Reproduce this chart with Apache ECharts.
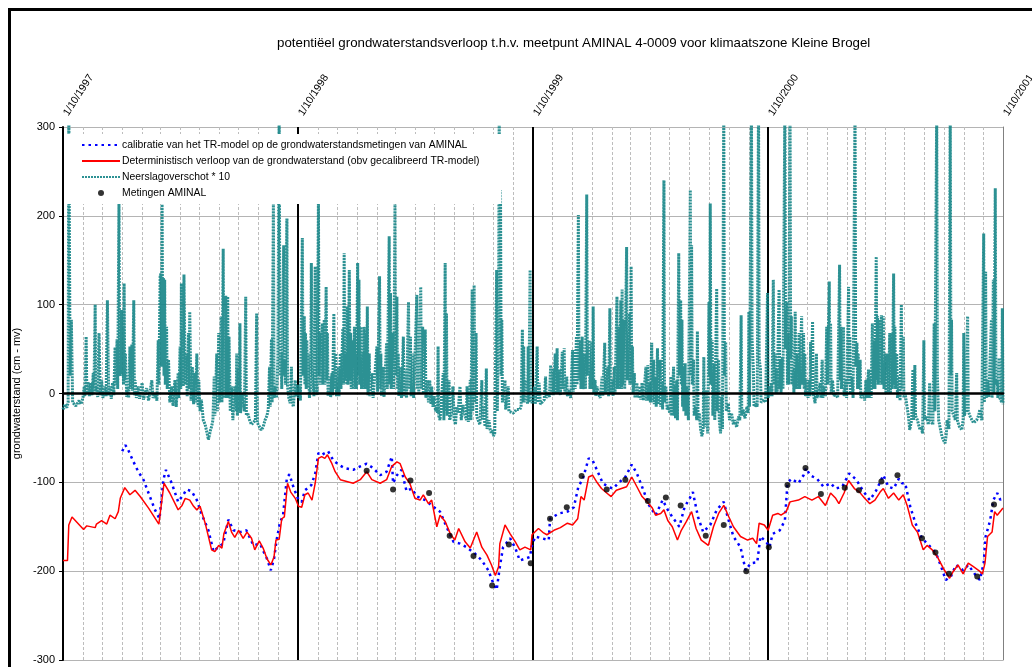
<!DOCTYPE html>
<html>
<head>
<meta charset="utf-8">
<title>grondwaterstandsverloop AMINAL 4-0009</title>
<script src="https://cdn.jsdelivr.net/npm/echarts@6/dist/echarts.min.js"></script>
<style>
  html, body { margin: 0; padding: 0; background: #ffffff; }
  #chart { width: 1032px; height: 667px; }
</style>
</head>
<body>
<div id="chart"></div>
<script>
// Days are counted from 1 October 1997 (day 0) up to 1 October 2001 (day 1461).
const titel = 'potentiëel grondwaterstandsverloop t.h.v. meetpunt AMINAL 4-0009 voor klimaatszone Kleine Brogel';
const yAsNaam = 'grondwaterstand (cm - mv)';
const jaarLabels = ['1/10/1997', '1/10/1998', '1/10/1999', '1/10/2000', '1/10/2001'];
const reeksNamen = [
  'calibratie van het TR-model op de grondwaterstandsmetingen van AMINAL',
  'Deterministisch verloop van de grondwaterstand (obv gecalibreerd TR-model)',
  'Neerslagoverschot * 10',
  'Metingen AMINAL'
];

// calibratie van het TR-model: [dag, cm]
const calibratie = [
  [92,-65],[97,-58],[101,-63],[109,-76],[117,-88],[125,-97],[135,-116],[143,-131],[150,-141],
  [156,-97],[160,-86],[169,-101],[179,-122],[187,-114],[192,-108],[200,-110],[208,-120],[215,-135],
  [226,-154],[234,-178],[241,-173],[249,-169],[257,-142],[265,-154],[275,-156],[285,-154],[296,-171],
  [306,-169],[317,-186],[323,-199],[328,-186],[332,-165],[337,-146],[342,-137],[348,-95],[352,-91],
  [358,-105],[366,-120],[371,-122],[376,-109],[386,-103],[392,-90],[397,-67],[402,-69],[412,-65],
  [420,-75],[428,-80],[438,-84],[451,-86],[462,-82],[472,-79],[482,-84],[493,-92],[503,-88],
  [511,-71],[513,-101],[519,-92],[526,-86],[534,-110],[542,-107],[550,-116],[563,-120],[573,-126],
  [586,-133],[596,-150],[607,-167],[617,-169],[627,-173],[640,-180],[651,-188],[661,-199],[669,-214],
  [674,-221],[679,-195],[684,-173],[695,-163],[703,-174],[710,-188],[713,-186],[726,-184],[728,-173],
  [734,-161],[744,-163],[755,-165],[757,-141],[771,-135],[784,-133],[794,-128],[801,-105],[808,-96],
  [817,-73],[823,-75],[831,-88],[839,-101],[847,-105],[855,-107],[863,-101],[874,-94],[884,-80],
  [892,-90],[900,-105],[911,-126],[921,-137],[932,-120],[940,-131],[947,-139],[958,-150],[966,-128],
  [974,-118],[979,-111],[987,-139],[995,-156],[1006,-148],[1016,-131],[1027,-122],[1033,-139],
  [1042,-161],[1053,-173],[1061,-199],[1069,-191],[1079,-190],[1084,-161],[1093,-167],[1098,-173],
  [1103,-158],[1114,-154],[1122,-143],[1126,-101],[1132,-96],[1143,-101],[1151,-92],[1155,-84],
  [1161,-92],[1172,-96],[1182,-105],[1193,-101],[1201,-107],[1211,-105],[1222,-90],[1233,-97],
  [1243,-109],[1254,-120],[1264,-109],[1275,-92],[1283,-105],[1291,-107],[1299,-96],[1304,-101],
  [1309,-101],[1317,-128],[1325,-146],[1335,-163],[1346,-171],[1357,-180],[1365,-195],[1372,-210],
  [1380,-206],[1388,-193],[1399,-199],[1407,-193],[1417,-203],[1425,-210],[1431,-191],[1434,-161],
  [1441,-143],[1446,-120],[1452,-112],[1457,-120],[1461,-116]
];

// deterministisch verloop (gecalibreerd TR-model): [dag, cm]
const deterministisch = [
  [0,-188],[7,-188],[9,-148],[14,-139],[32,-153],[37,-149],[50,-151],[52,-147],[60,-143],[68,-147],
  [73,-137],[81,-141],[86,-133],[89,-118],[96,-106],[104,-114],[112,-109],[120,-116],[133,-129],
  [149,-147],[157,-101],[166,-112],[179,-131],[185,-126],[190,-118],[197,-120],[203,-127],[208,-131],
  [213,-127],[221,-146],[231,-176],[236,-178],[242,-171],[247,-174],[250,-158],[257,-144],[262,-156],
  [267,-162],[273,-154],[280,-163],[286,-156],[293,-163],[298,-176],[305,-166],[311,-174],[317,-186],
  [323,-193],[328,-184],[331,-165],[336,-164],[340,-141],[344,-139],[349,-101],[354,-111],[361,-118],
  [366,-127],[371,-128],[376,-114],[381,-112],[387,-120],[392,-101],[397,-73],[402,-71],[407,-73],
  [411,-69],[418,-79],[423,-88],[431,-97],[441,-99],[451,-101],[462,-97],[472,-88],[480,-97],
  [493,-101],[503,-97],[511,-82],[519,-77],[524,-79],[532,-94],[539,-101],[547,-118],[555,-120],
  [560,-114],[568,-124],[573,-120],[581,-150],[586,-137],[594,-144],[602,-158],[609,-165],[615,-152],
  [625,-167],[633,-174],[638,-165],[643,-156],[651,-173],[659,-182],[666,-193],[672,-205],[677,-195],
  [679,-169],[687,-148],[695,-158],[703,-167],[710,-176],[718,-173],[727,-176],[729,-159],[739,-152],
  [747,-157],[752,-159],[763,-154],[773,-151],[784,-146],[792,-148],[800,-141],[805,-116],[810,-120],
  [817,-94],[823,-92],[829,-99],[837,-107],[845,-112],[852,-116],[860,-109],[868,-107],[876,-105],
  [884,-94],[892,-105],[900,-116],[908,-122],[916,-129],[921,-137],[929,-135],[934,-131],[940,-143],
  [947,-150],[955,-165],[961,-154],[969,-144],[977,-133],[984,-152],[992,-165],[1003,-171],[1011,-150],
  [1019,-135],[1027,-126],[1035,-139],[1042,-150],[1053,-161],[1064,-165],[1072,-163],[1078,-169],
  [1082,-146],[1090,-148],[1096,-154],[1103,-137],[1111,-135],[1116,-137],[1124,-133],[1130,-122],
  [1143,-120],[1153,-116],[1164,-120],[1174,-116],[1185,-126],[1193,-112],[1201,-118],[1206,-124],
  [1214,-112],[1221,-98],[1230,-107],[1238,-111],[1246,-118],[1254,-124],[1262,-120],[1270,-111],
  [1275,-107],[1283,-118],[1291,-112],[1299,-120],[1306,-114],[1312,-126],[1320,-148],[1328,-156],
  [1337,-176],[1343,-171],[1351,-176],[1359,-184],[1370,-199],[1378,-208],[1383,-201],[1391,-193],
  [1399,-203],[1407,-191],[1415,-195],[1423,-199],[1429,-203],[1433,-191],[1437,-161],[1444,-156],
  [1448,-133],[1452,-137],[1461,-129]
];

// neerslagoverschot * 10, per hydrologisch jaar: [dag, waarde]
const neerslag9798 = [
  [0,-18],[3,-12],[6,-16],[8,-10],[9,330],[11,20],[13,83],[15,-10],[20,-14],[25,-8],[28,-12],[31,-5],
  [33,8],[34,-3],[36,64],[37,0],[39,13],[41,-3],[43,12],[45,-2],[47,23],[48,0],[50,100],[51,2],[52,8],
  [54,-4],[56,68],[58,-2],[60,15],[62,-5],[65,8],[67,-3],[69,105],[71,-2],[73,8],[75,-6],[77,12],
  [79,-2],[81,52],[82,10],[84,61],[85,5],[87,216],[88,20],[90,30],[91,94],[92,20],[93,75],[94,10],
  [95,124],[96,15],[97,45],[99,-4],[100,8],[102,-5],[104,53],[105,5],[107,55],[108,3],[110,105],
  [111,-2],[112,15],[114,-5],[117,8],[119,-6],[123,12],[125,-7],[130,6],[133,-8],[138,15],[140,-5],
  [143,0],[146,-8],[148,60],[149,10],[151,132],[152,135],[153,30],[154,218],[155,40],[156,130],
  [157,20],[158,128],[159,10],[161,75],[162,5],[164,38],[166,-10],[169,8],[171,-14],[174,15],
  [176,-15],[179,23],[180,-5],[182,53],[183,5],[184,124],[185,10],[186,72],[187,8],[188,134],[190,10],
  [192,45],[193,-3],[195,68],[196,5],[197,92],[199,-8],[201,30],[203,-12],[205,23],[206,-10],[208,45],
  [210,-15],[211,15],[213,-20],[215,-7],[218,-30],[221,-35],[224,-45],[226,-52],[229,-42],[231,-37],
  [233,-30],[235,19],[236,-25],[239,45],[240,-20],[242,68],[243,-10],[245,47],[246,87],[247,-10],
  [249,163],[250,-5],[252,75],[253,110],[254,-5],[256,109],[257,-5],[258,64],[260,-20],[262,8],
  [264,-30],[265,-28],[267,8],[269,-20],[270,45],[271,-25],[272,27],[274,-20],[275,79],[276,-22],
  [278,0],[280,-11],[282,-20],[284,109],[285,-25],[287,-22],[290,-30],[293,-35],[296,-37],[299,-30],
  [301,90],[302,-33],[305,-35],[308,-41],[311,-38],[314,-30],[317,-25],[319,-18],[321,30],[322,-15],
  [324,61],[325,-10],[327,214],[328,-5],[330,8],[332,-5],[334,40],[336,330],[337,83],[338,20],[339,45],
  [340,5],[343,167],[344,20],[345,38],[346,10],[348,197],[349,8],[351,-5],[353,-11],[355,30],[356,-8],
  [358,-15],[361,15],[362,-3],[363,-4],[365,10]
];
const neerslag9899 = [
  [366,-5],[368,8],[369,-8],[372,175],[373,20],[375,87],[376,10],[377,68],[378,5],[379,60],[380,8],
  [381,45],[383,-5],[385,8],[386,147],[387,30],[390,-3],[392,143],[393,20],[395,-2],[397,217],[398,20],
  [399,68],[400,10],[403,79],[404,10],[406,83],[407,10],[409,120],[410,15],[411,68],[412,-3],[415,19],
  [416,-4],[418,23],[419,-2],[421,90],[422,5],[424,45],[425,-3],[428,30],[429,-3],[431,45],[432,5],
  [435,73],[436,10],[437,158],[438,15],[440,45],[441,10],[442,98],[443,10],[445,139],[446,15],[447,68],
  [448,5],[450,60],[451,5],[453,75],[454,5],[455,45],[456,5],[458,147],[459,20],[460,128],[461,10],
  [463,75],[464,5],[466,45],[467,5],[468,75],[469,5],[471,68],[472,5],[473,98],[474,-2],[476,45],
  [477,-3],[480,23],[482,-5],[485,-3],[488,53],[489,2],[492,132],[493,5],[494,45],[495,-3],[498,30],
  [499,-4],[501,-5],[503,57],[504,5],[507,177],[508,10],[509,113],[510,5],[513,68],[514,5],[516,214],
  [517,20],[519,109],[520,5],[521,45],[522,-3],[525,30],[526,-5],[529,64],[530,-3],[533,27],[534,-5],
  [537,103],[538,5],[540,64],[541,-3],[544,45],[545,-5],[550,111],[551,5],[552,64],[553,0],[556,120],
  [557,5],[559,75],[560,0],[563,72],[564,-5],[566,15],[568,-10],[570,15],[572,-12],[573,8],[575,-15],
  [577,-3],[579,-20],[581,-15],[582,-22],[583,53],[584,-25],[586,-30],[589,-28],[591,23],[592,-30],
  [594,147],[595,-20],[596,90],[597,-25],[600,15],[601,-30],[604,-22],[606,8],[608,-30],[610,-35],
  [612,-15],[614,-22],[617,8],[619,-30],[622,-13],[624,-22],[627,-30],[628,8],[630,-32],[633,15],
  [634,-30],[636,117],[637,-20],[639,122],[640,-10],[642,68],[643,-26],[645,-26],[648,-35],[651,15],
  [652,-30],[653,-15],[656,-37],[658,28],[659,-40],[662,-30],[664,-41],[666,-45],[668,-41],[669,-48],
  [671,-45],[674,139],[675,-20],[677,75],[678,330],[679,60],[680,229],[681,20],[682,83],[683,-10],
  [687,15],[688,-18],[692,8],[693,-20],[696,-22],[700,-22],[705,-18],[710,-18],[712,-15],[714,72],
  [715,-10],[716,53],[717,-10],[721,15],[722,-12],[723,53],[724,-10],[726,139],[727,-5],[729,-11],
  [732,0]
];
const neerslag9900 = [
  [733,8],[734,-12],[737,53],[738,-10],[740,12],[742,-12],[744,-11],[748,-7],[750,19],[751,-5],[754,0],
  [756,-4],[758,32],[759,-2],[761,28],[762,-2],[765,45],[766,0],[768,51],[769,0],[772,27],[773,-2],
  [776,47],[777,5],[779,51],[780,0],[783,19],[784,-3],[787,4],[789,-5],[792,49],[793,2],[795,49],
  [796,5],[798,64],[799,10],[801,201],[802,15],[804,60],[805,5],[807,64],[808,5],[811,45],[812,5],
  [814,224],[815,20],[818,60],[819,5],[822,58],[823,5],[824,98],[825,0],[827,15],[828,-3],[830,8],
  [832,0],[835,-5],[838,19],[839,-3],[842,57],[843,0],[847,30],[848,-3],[850,96],[851,0],[854,15],
  [855,-3],[857,30],[858,0],[861,109],[862,5],[864,75],[865,5],[867,105],[868,5],[869,117],[870,10],
  [872,83],[873,5],[876,165],[877,15],[880,90],[881,10],[883,143],[884,10],[885,53],[886,0],[888,23],
  [889,-5],[892,12],[893,-5],[897,8],[898,-7],[900,12],[902,-8],[906,30],[907,-8],[909,32],[910,-8],
  [912,12],[913,-10],[915,57],[916,-10],[918,38],[919,-12],[921,19],[922,-15],[924,51],[925,-12],
  [928,38],[929,-15],[930,12],[932,-18],[934,240],[935,-10],[937,8],[939,-18],[941,-15],[943,-22],
  [945,19],[946,-25],[949,30],[950,-25],[951,8],[952,-28],[954,15],[955,-30],[957,158],[958,20],
  [960,105],[961,10],[962,83],[963,-15],[964,30],[965,-20],[967,34],[968,-25],[970,8],[972,-30],
  [975,229],[976,20],[977,167],[978,10],[980,38],[981,-25],[983,-15],[985,-30],[986,70],[987,-30],
  [989,-22],[991,-40],[993,-48],[995,-40],[996,41],[997,-38],[1000,4],[1002,-45],[1004,103],[1005,20],
  [1006,214],[1007,10],[1009,60],[1010,-25],[1012,34],[1013,-30],[1016,118],[1017,-20],[1019,38],
  [1020,-30],[1022,-45],[1024,-4],[1025,-40],[1027,330],[1028,20],[1030,58],[1031,-20],[1034,-11],
  [1036,-30],[1039,-22],[1042,-35],[1044,-30],[1047,-38],[1050,-26],[1052,-30],[1054,88],[1055,-25],
  [1057,-18],[1060,-28],[1063,-15],[1065,-22],[1066,92],[1067,-15],[1070,330],[1071,60],[1073,27],
  [1074,-15],[1077,-11],[1079,-15],[1081,330],[1082,40],[1084,27],[1085,-10],[1087,-11],[1090,-7],
  [1092,-10],[1095,113],[1096,-5]
];
const neerslag0001 = [
  [1098,8],[1100,-3],[1101,12],[1102,-3],[1104,128],[1105,10],[1107,45],[1108,0],[1109,28],[1110,0],
  [1113,117],[1114,5],[1115,38],[1116,0],[1118,41],[1119,5],[1122,330],[1123,50],[1125,103],[1126,10],
  [1127,68],[1128,10],[1130,330],[1131,40],[1132,87],[1133,10],[1135,27],[1136,0],[1138,92],[1139,5],
  [1141,45],[1142,5],[1144,68],[1145,5],[1148,87],[1149,10],[1151,68],[1152,5],[1153,45],[1154,-3],
  [1156,15],[1158,-5],[1160,15],[1161,-3],[1162,58],[1163,5],[1165,81],[1166,0],[1169,-11],[1171,45],
  [1172,-5],[1177,12],[1178,-5],[1180,38],[1181,-5],[1183,8],[1185,-3],[1187,75],[1188,10],[1191,126],
  [1192,10],[1193,79],[1194,0],[1196,15],[1198,-3],[1201,0],[1204,-5],[1207,145],[1208,15],[1209,75],
  [1210,5],[1213,75],[1214,-3],[1217,15],[1218,-5],[1221,120],[1222,10],[1223,64],[1224,0],[1226,19],
  [1228,-5],[1231,330],[1232,30],[1234,57],[1235,5],[1236,45],[1237,5],[1239,38],[1240,-5],[1244,0],
  [1246,-8],[1248,15],[1249,-5],[1252,27],[1253,-5],[1254,19],[1256,-5],[1258,79],[1259,5],[1261,60],
  [1262,5],[1264,154],[1265,15],[1266,87],[1267,10],[1269,83],[1270,10],[1272,88],[1273,10],[1275,87],
  [1276,5],[1278,45],[1279,0],[1281,45],[1283,0],[1285,68],[1286,0],[1288,68],[1289,5],[1291,135],
  [1292,10],[1293,75],[1294,5],[1296,45],[1297,-5],[1300,19],[1301,-8],[1303,100],[1304,5],[1306,64],
  [1307,-5],[1309,0],[1311,-11],[1314,-25],[1316,-41],[1319,-30],[1321,27],[1322,-30],[1324,32],
  [1325,-25],[1328,-30],[1332,-41],[1334,-38],[1336,-45],[1338,60],[1339,-30],[1342,-26],[1345,-35],
  [1347,12],[1348,-30],[1350,-30],[1352,-35],[1354,79],[1355,-20],[1358,330],[1359,20],[1361,-30],
  [1364,-41],[1366,-48],[1368,-52],[1371,-56],[1373,-45],[1374,-30],[1377,-40],[1379,330],[1380,20],
  [1381,83],[1382,-20],[1384,-18],[1387,-30],[1389,23],[1390,-30],[1393,-37],[1397,-41],[1399,-30],
  [1400,68],[1401,-25],[1403,-18],[1406,87],[1407,-20],[1410,-26],[1415,-33],[1420,-30],[1423,-25],
  [1425,-18],[1428,-30],[1431,180],[1432,-10],[1434,137],[1435,-5],[1437,15],[1439,-4],[1441,-4],
  [1443,83],[1444,-5],[1446,128],[1447,0],[1449,231],[1450,10],[1452,15],[1453,-5],[1455,40],
  [1456,-5],[1457,-4],[1459,-10],[1460,96],[1461,-12]
];

// Metingen AMINAL: [dag, cm]
const metingen = [
  [472,-87],[513,-108],[540,-98],[569,-112],[601,-160],[638,-183],[667,-216],[693,-170],[727,-191],
  [757,-141],[783,-128],[806,-93],[845,-108],[874,-97],[909,-121],[937,-117],[960,-126],[999,-160],
  [1027,-148],[1062,-200],[1097,-173],[1126,-103],[1154,-84],[1178,-113],[1215,-106],[1237,-109],
  [1272,-99],[1297,-92],[1335,-163],[1356,-179],[1377,-203],[1421,-206],[1447,-125]
];

const FONT = '"Liberation Sans", Arial, Helvetica, sans-serif';
const DAG_MS = 86400000;
const start = Date.UTC(1997, 9, 1);
const einde = Math.round((Date.UTC(2001, 9, 1) - start) / DAG_MS);

// monthly grid lines and the 1 October year boundaries
const maandLijnen = [];
const jaarLijnen = [];
for (let m = 1; m < 48; m++) {
  const d = Math.round((Date.UTC(1997, 9 + m, 1) - start) / DAG_MS);
  if (m % 12 === 0) jaarLijnen.push({ xAxis: d });
  else maandLijnen.push({ xAxis: d });
}

const neerslag = neerslag9798.concat(neerslag9899, neerslag9900, neerslag0001);

// legend entries for the lines show only the line stroke (no marker)
const geenMarker = { opacity: 0 };

const chart = echarts.init(document.getElementById('chart'), null, { renderer: 'canvas' });
chart.setOption({
  animation: false,
  backgroundColor: '#ffffff',
  textStyle: { fontFamily: FONT },
  title: {
    text: titel,
    left: 272,
    top: 32,
    textStyle: { fontFamily: FONT, fontSize: 13.3, fontWeight: 'normal', color: '#000' }
  },
  graphic: [{
    type: 'rect',
    silent: true,
    z: 100,
    shape: { x: 9.5, y: 9.5, width: 1100, height: 800 },
    style: { fill: 'transparent', stroke: '#000', lineWidth: 3 }
  }],
  legend: {
    orient: 'vertical',
    left: 64,
    top: 134,
    padding: [5, 22, 5, 17],
    itemWidth: 38,
    itemHeight: 6,
    itemGap: 4,
    backgroundColor: '#ffffff',
    selectedMode: false,
    textStyle: { fontFamily: FONT, fontSize: 10.4, color: '#000', lineHeight: 12, padding: [0, 0, 0, -3] },
    data: [
      { name: reeksNamen[0], itemStyle: geenMarker },
      { name: reeksNamen[1], itemStyle: geenMarker },
      { name: reeksNamen[2], itemStyle: geenMarker },
      { name: reeksNamen[3], icon: 'circle' }
    ]
  },
  grid: { left: 63, right: 29, top: 127, bottom: 7, containLabel: false, outerBoundsMode: 'none' },
  xAxis: [
    {
      type: 'value', min: 0, max: einde, position: 'bottom', z: 5,
      axisLine: { show: true, onZero: true, lineStyle: { color: '#000', width: 2.5 } },
      axisTick: { show: false }, axisLabel: { show: false }, splitLine: { show: false }
    },
    {
      type: 'value', min: 0, max: einde, interval: einde / 4, position: 'top',
      axisLine: { show: false }, axisTick: { show: false }, splitLine: { show: false },
      axisLabel: {
        show: true, rotate: 57, margin: 8, color: '#000', fontFamily: FONT, fontSize: 10.5,
        padding: [0, 0, 0, 5],
        showMinLabel: true, showMaxLabel: true,
        formatter: v => jaarLabels[Math.round(v / (einde / 4))]
      }
    }
  ],
  yAxis: [
    {
      type: 'value', min: -300, max: 300, interval: 100, position: 'left',
      name: yAsNaam, nameLocation: 'middle', nameGap: 36, nameRotate: 90,
      nameTextStyle: { fontFamily: FONT, fontSize: 11, color: '#000' },
      axisLine: { show: true, onZero: false, lineStyle: { color: '#000', width: 2 } },
      axisTick: { show: true, inside: false, length: 4, lineStyle: { color: '#000', width: 1 } },
      axisLabel: { color: '#000', fontFamily: FONT, fontSize: 11, margin: 8 },
      splitLine: { show: true, lineStyle: { color: '#b4b4b4', width: 1 } }
    },
    {
      type: 'value', min: -300, max: 300, position: 'right',
      axisLine: { show: true, onZero: false, lineStyle: { color: '#808080', width: 1 } },
      axisTick: { show: false }, axisLabel: { show: false }, splitLine: { show: false }
    }
  ],
  series: [
    {
      name: reeksNamen[0], type: 'line', data: calibratie, symbol: 'none', z: 3,
      lineStyle: { color: '#0000ff', width: 2.5, type: [2.5, 4] },
      itemStyle: { color: '#0000ff' }
    },
    {
      name: reeksNamen[1], type: 'line', data: deterministisch, symbol: 'none', z: 4,
      lineStyle: { color: '#ff0000', width: 1.5 },
      itemStyle: { color: '#ff0000' }
    },
    {
      name: reeksNamen[2], type: 'line', data: neerslag, symbol: 'none', z: 2,
      lineStyle: { color: '#158587', width: 3, type: [2, 1], opacity: 0.9 },
      itemStyle: { color: '#158587' },
      markLine: {
        silent: true, z: 1, symbol: ['none', 'none'], label: { show: false },
        animation: false,
        data: maandLijnen.map(p => Object.assign({}, p, { lineStyle: { color: '#bdbdbd', width: 1, type: [3, 2] } }))
          .concat(jaarLijnen.map(p => Object.assign({}, p, { lineStyle: { color: '#000', width: 2, type: 'solid' } })))
      }
    },
    {
      name: reeksNamen[3], type: 'scatter', data: metingen, symbol: 'circle', symbolSize: 6, z: 5,
      itemStyle: { color: '#000' }
    }
  ]
});
</script>
</body>
</html>
